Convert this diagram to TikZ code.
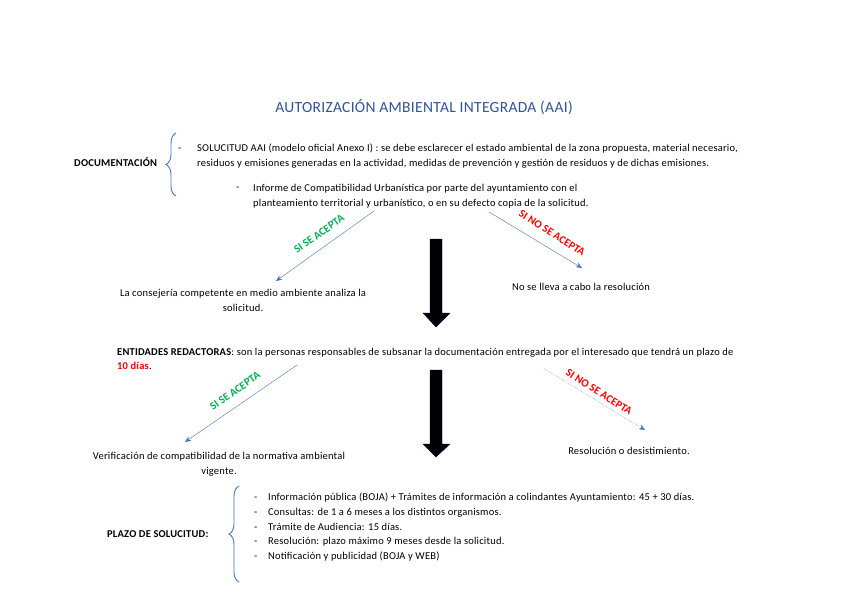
\documentclass[tikz,border=0pt]{standalone}
\usepackage{fontspec}
\setmainfont{Carlito}[LetterSpace=2]
\newfontfamily\rotulo{Carlito}
\usepackage{xcolor}
\usetikzlibrary{decorations.pathreplacing, arrows.meta}

\definecolor{titulo}{HTML}{2F5597}
\definecolor{flecha}{HTML}{4472C4}
\definecolor{verde}{HTML}{00B050}
\definecolor{rojo}{HTML}{FF0000}

\tikzset{
  texto/.style={font=\fontsize{10.5}{14.5}\selectfont, inner sep=0pt, anchor=west, align=left},
  centrado/.style={font=\fontsize{10.5}{15}\selectfont, inner sep=0pt, align=center},
  guion/.style={texto, execute at begin node=\strut},
  rama/.style={flecha, thin, -{Stealth[length=6pt, width=5pt]}},
  si/.style={font=\rotulo\fontsize{11}{12}\selectfont\bfseries, text=verde, inner sep=0pt},
  no/.style={font=\rotulo\fontsize{11}{12}\selectfont\bfseries, text=rojo, inner sep=0pt},
  llave/.style={flecha, line width=0.9pt, decorate, decoration={brace, amplitude=10pt}},
  bloque/.style={fill=black, draw=black!70!blue, thin}
}

\begin{document}
\begin{tikzpicture}[x=1pt, y=-1pt]

  % page frame
  \useasboundingbox (0,0) rectangle (848,599);

  % Title
  \node[font=\fontsize{15.5}{18}\selectfont, text=titulo] (titulo) at (424,107)
    {AUTORIZACIÓN AMBIENTAL INTEGRADA (AAI)};

  % Documentacion
  \node[texto, font=\fontsize{10.5}{12}\selectfont\bfseries] (doc) at (74,162) {DOCUMENTACIÓN};
  \draw[llave] (176,196) -- (176,133);
  \node[guion] (g1) at (178,149) {-};
  \node[texto] (sol) at (197,156)
    {SOLUCITUD AAI (modelo oficial Anexo I) : se debe esclarecer el estado ambiental de la zona propuesta, material necesario,\\
     residuos y emisiones generadas en la actividad, medidas de prevención y gestión de residuos y de dichas emisiones.};
  \node[guion] (g2) at (236,188) {-};
  \node[texto] (inf) at (253,196)
    {Informe de Compatibilidad Urbanística por parte del ayuntamiento con el\\
     planteamiento territorial y urbanístico, o en su defecto copia de la solicitud.};

  % first branches
  \coordinate (a1) at (374,211);
  \coordinate (b1) at (276,281);
  \coordinate (a2) at (489,212);
  \coordinate (b2) at (582,268);
  \draw[rama] (a1) -- (b1);
  \draw[rama] (a2) -- (b2);
  \node[si, rotate=35] (si1) at (319,234) {SI SE ACEPTA};
  \node[no, rotate=-32] (no1) at (552,233) {SI NO SE ACEPTA};

  \node[centrado] (cons) at (243,300)
    {La consejería competente en medio ambiente analiza la\\ solicitud.};
  \node[centrado] (nores) at (581,287) {No se lleva a cabo la resolución};

  % big arrow 1
  \fill[bloque] (430,239) -- (442,239) -- (442,313) -- (450,313) -- (436,327)
    -- (423,313) -- (430,313) -- cycle;

  % Entidades redactoras
  \node[texto] (ent) at (117,359)
    {\textbf{ENTIDADES REDACTORAS}: son la personas responsables de subsanar la documentación entregada por el interesado que tendrá un plazo de\\
     \textcolor{rojo}{\textbf{10 días}}.};

  % second branches
  \coordinate (a3) at (297,365);
  \coordinate (b3) at (185,442);
  \coordinate (a4) at (543,368);
  \coordinate (b4) at (645,430);
  \draw[rama] (a3) -- (b3);
  \draw[rama, densely dotted] (a4) -- (b4);
  \node[si, rotate=35] (si2) at (235,391) {SI SE ACEPTA};
  \node[no, rotate=-32] (no2) at (599,392) {SI NO SE ACEPTA};

  \node[centrado] (verif) at (219,464)
    {Verificación de compatibilidad de la normativa ambiental\\ vigente.};
  \node[centrado] (desist) at (629,451) {Resolución o desistimiento.};

  % big arrow 2
  \fill[bloque] (430,370) -- (442,370) -- (442,444) -- (450,444) -- (436,457)
    -- (423,444) -- (430,444) -- cycle;

  % Plazo de solucitud
  \node[texto, font=\fontsize{10.5}{12}\selectfont\bfseries] (plazo) at (107,534) {PLAZO DE SOLUCITUD:};
  \draw[llave] (239,582) -- (239,486);
  \foreach \y/\t [count=\i] in {
      498/{Información pública (BOJA) + Trámites de información a colindantes Ayuntamiento: 45 + 30 días.},
      513/{Consultas: de 1 a 6 meses a los distintos organismos.},
      528/{Trámite de Audiencia: 15 días.},
      542/{Resolución: plazo máximo 9 meses desde la solicitud.},
      557/{Notificación y publicidad (BOJA y WEB)}}{
    \node[guion] (d\i) at (254,\y) {-};
    \node[guion] (p\i) at (268,\y) {\t};
  }

\end{tikzpicture}
\end{document}
